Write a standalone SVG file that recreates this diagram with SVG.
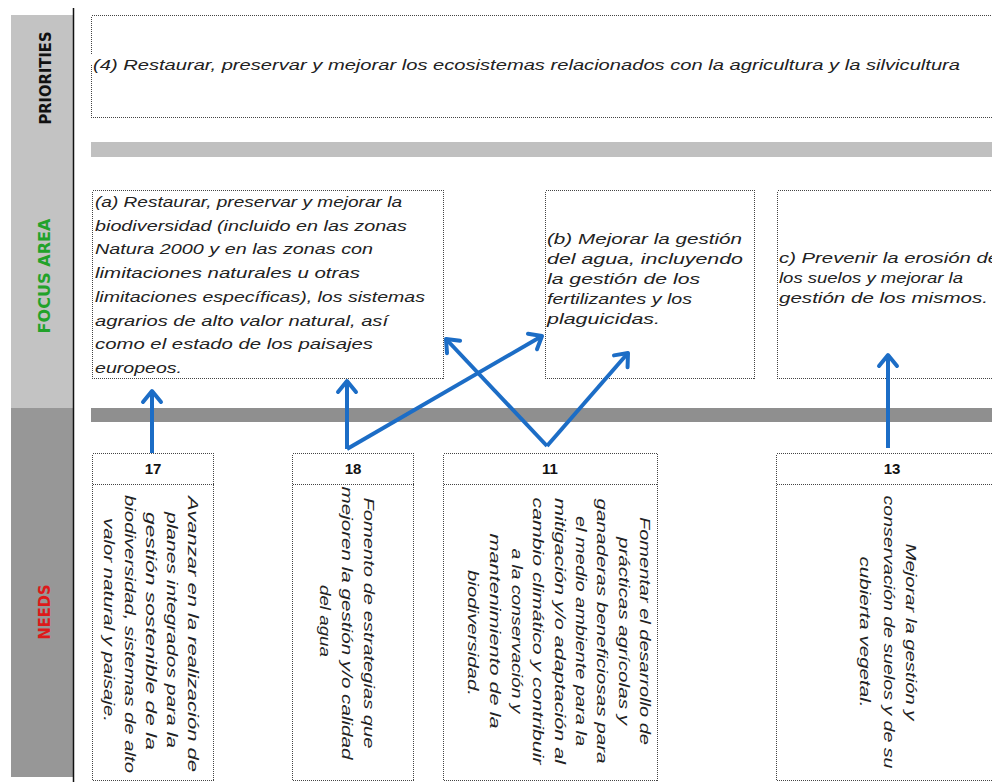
<svg xmlns="http://www.w3.org/2000/svg" width="992" height="783" viewBox="0 0 992 783">
<style>
.box{fill:#fff;stroke:#444;stroke-width:1;stroke-dasharray:1 1;shape-rendering:crispEdges}
.sep{stroke:#444;stroke-width:1;stroke-dasharray:1 1;shape-rendering:crispEdges}
.t{font-family:"Liberation Sans",Arial,sans-serif;font-style:italic;font-size:15.5px;fill:#222}
.v{font-family:"Liberation Sans",Arial,sans-serif;font-style:italic;font-size:15.5px;fill:#222;text-anchor:middle}
.num{font-family:"Liberation Sans",Arial,sans-serif;font-weight:bold;font-size:15px;fill:#111;text-anchor:middle}
.side{font-family:"DejaVu Sans","Liberation Sans",sans-serif;font-weight:bold;font-size:15px;text-anchor:middle}
.arr{stroke:#1c6dc6;stroke-width:4;fill:none;marker-end:url(#ah)}
</style>
<defs>
<marker id="ah" markerUnits="userSpaceOnUse" markerWidth="30" markerHeight="30" refX="15" refY="15" orient="auto" viewBox="0 0 30 30">
<path d="M4,6 L15,15 L4,24" fill="none" stroke="#1c6dc6" stroke-width="4" stroke-linecap="round" stroke-linejoin="round"/>
</marker>
</defs>
<rect width="992" height="783" fill="#fff"/>
<g id="sidebar">
<rect x="11" y="15" width="62" height="393" fill="#c3c3c3"/>
<rect x="11" y="408" width="62" height="369" fill="#979797"/>
<line x1="73.5" y1="8" x2="73.5" y2="782" stroke="#111" stroke-width="1.5"/>
<text class="side" transform="translate(51,78) rotate(-90)" fill="#111" textLength="93" lengthAdjust="spacingAndGlyphs">PRIORITIES</text>
<text class="side" transform="translate(50,276) rotate(-90)" fill="#22a22a" textLength="115" lengthAdjust="spacingAndGlyphs">FOCUS AREA</text>
<text class="side" transform="translate(50,612) rotate(-90)" fill="#dd1a1a" textLength="55" lengthAdjust="spacingAndGlyphs">NEEDS</text>
</g>
<g id="bands">
<rect x="91" y="142" width="901" height="15" fill="#c0c0c0"/>
<rect x="91" y="408" width="901" height="14" fill="#8f8f8f"/>
</g>
<g id="priority4">
<rect class="box" x="91.5" y="15.5" width="910" height="102"/>
<text class="t" x="93" y="70" textLength="867" lengthAdjust="spacingAndGlyphs">(4) Restaurar, preservar y mejorar los ecosistemas relacionados con la agricultura y la silvicultura</text>
</g>
<g id="focus-a">
<rect class="box" x="92.5" y="190.5" width="351" height="188"/>
<text class="t" x="95" y="207" textLength="307" lengthAdjust="spacingAndGlyphs">(a) Restaurar, preservar y mejorar la</text>
<text class="t" x="95" y="230.7" textLength="312" lengthAdjust="spacingAndGlyphs">biodiversidad (incluido en las zonas</text>
<text class="t" x="95" y="254.4" textLength="278" lengthAdjust="spacingAndGlyphs">Natura 2000 y en las zonas con</text>
<text class="t" x="95" y="278.1" textLength="265" lengthAdjust="spacingAndGlyphs">limitaciones naturales u otras</text>
<text class="t" x="95" y="301.8" textLength="330" lengthAdjust="spacingAndGlyphs">limitaciones específicas), los sistemas</text>
<text class="t" x="95" y="325.5" textLength="293" lengthAdjust="spacingAndGlyphs">agrarios de alto valor natural, así</text>
<text class="t" x="95" y="349.2" textLength="278" lengthAdjust="spacingAndGlyphs">como el estado de los paisajes</text>
<text class="t" x="95" y="373" textLength="87" lengthAdjust="spacingAndGlyphs">europeos.</text>
</g>
<g id="focus-b">
<rect class="box" x="545.5" y="190.5" width="209" height="188"/>
<text class="t" x="547" y="244" textLength="195" lengthAdjust="spacingAndGlyphs">(b) Mejorar la gestión</text>
<text class="t" x="547" y="264" textLength="196" lengthAdjust="spacingAndGlyphs">del agua, incluyendo</text>
<text class="t" x="547" y="284" textLength="153" lengthAdjust="spacingAndGlyphs">la gestión de los</text>
<text class="t" x="547" y="304" textLength="145" lengthAdjust="spacingAndGlyphs">fertilizantes y los</text>
<text class="t" x="547" y="324" textLength="113" lengthAdjust="spacingAndGlyphs">plaguicidas.</text>
</g>
<g id="focus-c">
<rect class="box" x="777.5" y="190.5" width="240" height="188"/>
<text class="t" x="779" y="263" textLength="220" lengthAdjust="spacingAndGlyphs">c) Prevenir la erosión de</text>
<text class="t" x="779" y="283" textLength="184" lengthAdjust="spacingAndGlyphs">los suelos y mejorar la</text>
<text class="t" x="779" y="303" textLength="209" lengthAdjust="spacingAndGlyphs">gestión de los mismos.</text>
</g>
<g id="need-17">
<rect class="box" x="92.5" y="453.5" width="121" height="327"/>
<line class="sep" x1="92.5" y1="484.5" x2="213.5" y2="484.5"/>
<text class="num" x="153" y="474">17</text>
<text class="v" transform="translate(188,634) rotate(90)" textLength="276" lengthAdjust="spacingAndGlyphs">Avanzar en la realización de</text>
<text class="v" transform="translate(167,630) rotate(90)" textLength="236" lengthAdjust="spacingAndGlyphs">planes integrados para la</text>
<text class="v" transform="translate(146,631) rotate(90)" textLength="238" lengthAdjust="spacingAndGlyphs">gestión sostenible de la</text>
<text class="v" transform="translate(125,634) rotate(90)" textLength="278" lengthAdjust="spacingAndGlyphs">biodiversidad, sistemas de alto</text>
<text class="v" transform="translate(104,620) rotate(90)" textLength="204" lengthAdjust="spacingAndGlyphs">valor natural y paisaje.</text>
</g>
<g id="need-18">
<rect class="box" x="292.5" y="453.5" width="121" height="327"/>
<line class="sep" x1="292.5" y1="484.5" x2="413.5" y2="484.5"/>
<text class="num" x="353" y="474">18</text>
<text class="v" transform="translate(364,623) rotate(90)" textLength="251" lengthAdjust="spacingAndGlyphs">Fomento de estrategias que</text>
<text class="v" transform="translate(342,623) rotate(90)" textLength="273" lengthAdjust="spacingAndGlyphs">mejoren la gestión y/o calidad</text>
<text class="v" transform="translate(320,621) rotate(90)" textLength="72" lengthAdjust="spacingAndGlyphs">del agua</text>
</g>
<g id="need-11">
<rect class="box" x="443.5" y="453.5" width="214" height="327"/>
<line class="sep" x1="443.5" y1="484.5" x2="657.5" y2="484.5"/>
<text class="num" x="550" y="474">11</text>
<text class="v" transform="translate(640,631) rotate(90)" textLength="228" lengthAdjust="spacingAndGlyphs">Fomentar el desarrollo de</text>
<text class="v" transform="translate(619,631) rotate(90)" textLength="188" lengthAdjust="spacingAndGlyphs">prácticas agrícolas y</text>
<text class="v" transform="translate(597,631) rotate(90)" textLength="265" lengthAdjust="spacingAndGlyphs">ganaderas beneficiosas para</text>
<text class="v" transform="translate(576,631) rotate(90)" textLength="230" lengthAdjust="spacingAndGlyphs">el medio ambiente para la</text>
<text class="v" transform="translate(555,631) rotate(90)" textLength="266" lengthAdjust="spacingAndGlyphs">mitigación y/o adaptación al</text>
<text class="v" transform="translate(533,631) rotate(90)" textLength="267" lengthAdjust="spacingAndGlyphs">cambio climático y contribuir</text>
<text class="v" transform="translate(512,631) rotate(90)" textLength="165" lengthAdjust="spacingAndGlyphs">a la conservación y</text>
<text class="v" transform="translate(490,631) rotate(90)" textLength="195" lengthAdjust="spacingAndGlyphs">mantenimiento de la</text>
<text class="v" transform="translate(468,633) rotate(90)" textLength="126" lengthAdjust="spacingAndGlyphs">biodiversidad.</text>
</g>
<g id="need-13">
<rect class="box" x="776.5" y="453.5" width="240" height="327"/>
<line class="sep" x1="776.5" y1="484.5" x2="1016" y2="484.5"/>
<text class="num" x="892" y="474">13</text>
<text class="v" transform="translate(906,632) rotate(90)" textLength="177" lengthAdjust="spacingAndGlyphs">Mejorar la gestión y</text>
<text class="v" transform="translate(884,632) rotate(90)" textLength="273" lengthAdjust="spacingAndGlyphs">conservación de suelos y de su</text>
<text class="v" transform="translate(860,632) rotate(90)" textLength="151" lengthAdjust="spacingAndGlyphs">cubierta vegetal.</text>
</g>
<g id="connectors">
<line class="arr" x1="152" y1="453" x2="152" y2="391"/>
<line class="arr" x1="347" y1="449" x2="347" y2="381"/>
<line class="arr" x1="347" y1="449" x2="542" y2="336"/>
<line class="arr" x1="547" y1="446" x2="446" y2="339"/>
<line class="arr" x1="547" y1="446" x2="628" y2="353"/>
<line class="arr" x1="888" y1="448" x2="888" y2="355"/>
</g>
</svg>
